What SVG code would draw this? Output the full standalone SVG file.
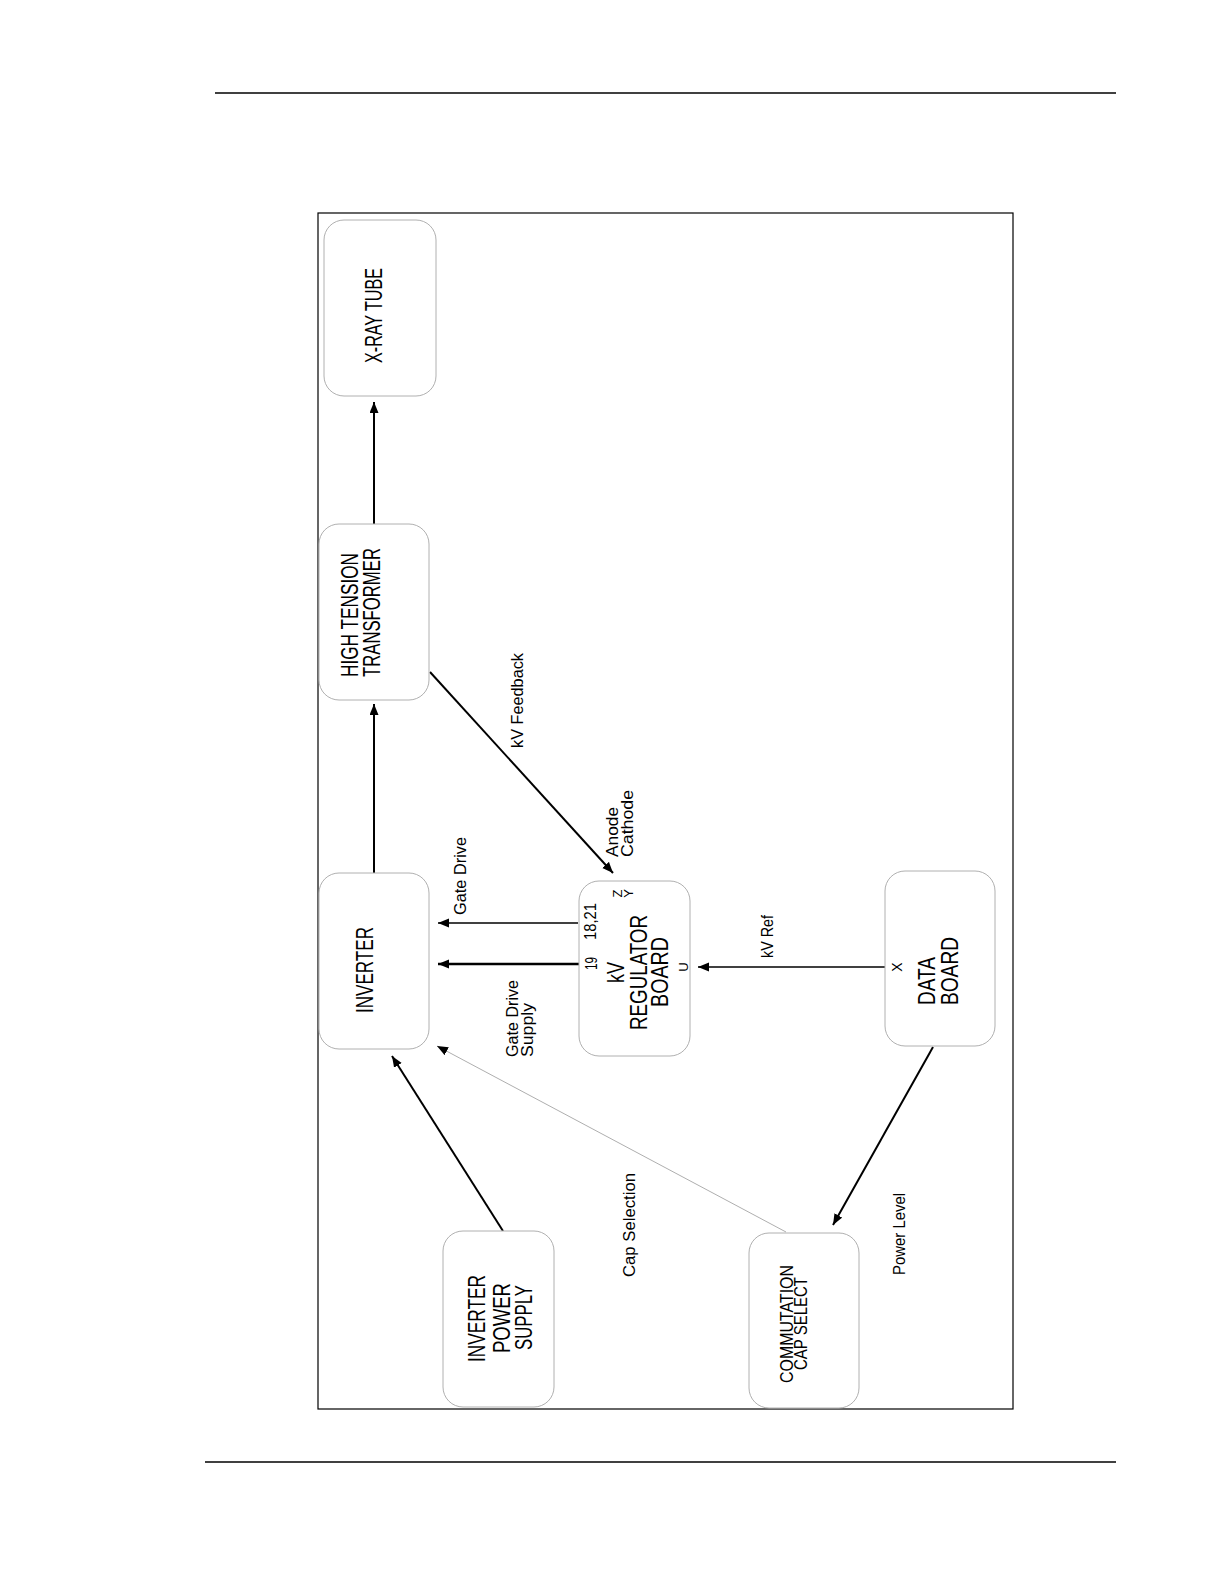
<svg xmlns="http://www.w3.org/2000/svg" width="1224" height="1584" viewBox="0 0 1224 1584">
<style>
.box{fill:#fff;stroke:#b0b0b0;stroke-width:1}
.t{font-family:"Liberation Sans",Arial,sans-serif;fill:#000}
.big{font-size:24px}
.mid{font-size:18px}
.sm{font-size:16px}
.xs{font-size:13px}
.c{stroke:#000;fill:none}
</style>
<defs>
<marker id="ah" markerUnits="userSpaceOnUse" markerWidth="12" markerHeight="10" refX="11" refY="4.5" orient="auto" viewBox="0 0 12 10">
<path d="M0,0 L11,4.5 L0,9 z" fill="#000"/>
</marker>
</defs>
<rect width="1224" height="1584" fill="#fff"/>
<line x1="215" y1="93" x2="1116" y2="93" stroke="#000" stroke-width="1.5"/>
<line x1="205" y1="1462" x2="1116" y2="1462" stroke="#000" stroke-width="1.5"/>
<rect x="318" y="213" width="695" height="1196" fill="none" stroke="#000" stroke-width="1.2"/>

<g id="connectors">
<line class="c" x1="374" y1="524" x2="374" y2="402" stroke-width="2" marker-end="url(#ah)"/>
<line class="c" x1="374" y1="873" x2="374" y2="704" stroke-width="2" marker-end="url(#ah)"/>
<line class="c" x1="430" y1="672" x2="613" y2="873" stroke-width="2" marker-end="url(#ah)"/>
<line class="c" x1="578" y1="923" x2="438" y2="923" stroke-width="1.5" marker-end="url(#ah)"/>
<line class="c" x1="580" y1="964" x2="438" y2="964" stroke-width="2.5" marker-end="url(#ah)"/>
<line class="c" x1="885" y1="967" x2="698" y2="967" stroke-width="1.5" marker-end="url(#ah)"/>
<line class="c" x1="503" y1="1231" x2="392" y2="1056" stroke-width="2" marker-end="url(#ah)"/>
<line x1="786" y1="1232" x2="437" y2="1046" stroke="#999" stroke-width="0.8" fill="none" marker-end="url(#ah)"/>
<line class="c" x1="933" y1="1047" x2="833" y2="1225" stroke-width="2" marker-end="url(#ah)"/>
<text class="t sm" transform="translate(523,700.5) rotate(-90)" text-anchor="middle" textLength="95" lengthAdjust="spacingAndGlyphs">kV Feedback</text>
<text class="t sm" transform="translate(618,857) rotate(-90)" textLength="50" lengthAdjust="spacingAndGlyphs">Anode</text>
<text class="t sm" transform="translate(633,857) rotate(-90)" textLength="67" lengthAdjust="spacingAndGlyphs">Cathode</text>
<text class="t sm" transform="translate(466,915) rotate(-90)" textLength="78" lengthAdjust="spacingAndGlyphs">Gate Drive</text>
<text class="t sm" transform="translate(518,1057) rotate(-90)" textLength="77" lengthAdjust="spacingAndGlyphs">Gate Drive</text>
<text class="t sm" transform="translate(533,1057) rotate(-90)" textLength="54" lengthAdjust="spacingAndGlyphs">Supply</text>
<text class="t sm" transform="translate(773,958) rotate(-90)" textLength="43" lengthAdjust="spacingAndGlyphs">kV Ref</text>
<text class="t sm" transform="translate(635,1277) rotate(-90)" textLength="104" lengthAdjust="spacingAndGlyphs">Cap Selection</text>
<text class="t sm" transform="translate(905,1275) rotate(-90)" textLength="82" lengthAdjust="spacingAndGlyphs">Power Level</text>
</g>

<g id="xray">
<rect class="box" x="324" y="220" width="112" height="176" rx="20"/>
<text class="t big" transform="translate(382,315.5) rotate(-90)" text-anchor="middle" textLength="95" lengthAdjust="spacingAndGlyphs">X-RAY TUBE</text>
</g>
<g id="ht">
<rect class="box" x="319" y="524" width="110" height="176" rx="20"/>
<text class="t big" transform="translate(358,677) rotate(-90)" textLength="124" lengthAdjust="spacingAndGlyphs">HIGH TENSION</text>
<text class="t big" transform="translate(380,677) rotate(-90)" textLength="129" lengthAdjust="spacingAndGlyphs">TRANSFORMER</text>
</g>
<g id="inverter">
<rect class="box" x="319" y="873" width="110" height="176" rx="20"/>
<text class="t big" transform="translate(373,970) rotate(-90)" text-anchor="middle" textLength="86" lengthAdjust="spacingAndGlyphs">INVERTER</text>
</g>
<g id="kvreg">
<rect class="box" x="579" y="881" width="111" height="175" rx="20"/>
<text class="t sm" transform="translate(597,970) rotate(-90)" textLength="13" lengthAdjust="spacingAndGlyphs">19</text>
<text class="t sm" transform="translate(596,940) rotate(-90)" textLength="37" lengthAdjust="spacingAndGlyphs">18,21</text>
<text class="t xs" transform="translate(622,893.5) rotate(-90)" text-anchor="middle">Z</text>
<text class="t xs" transform="translate(633,893.5) rotate(-90)" text-anchor="middle">Y</text>
<text class="t big" transform="translate(624,972.5) rotate(-90)" text-anchor="middle" textLength="21" lengthAdjust="spacingAndGlyphs">kV</text>
<text class="t big" transform="translate(647,972.5) rotate(-90)" text-anchor="middle" textLength="115" lengthAdjust="spacingAndGlyphs">REGULATOR</text>
<text class="t big" transform="translate(668,972) rotate(-90)" text-anchor="middle" textLength="70" lengthAdjust="spacingAndGlyphs">BOARD</text>
<text class="t xs" transform="translate(688,967) rotate(-90)" text-anchor="middle">U</text>
</g>
<g id="data">
<rect class="box" x="885" y="871" width="110" height="175" rx="20"/>
<text class="t xs" transform="translate(902,967) rotate(-90)" text-anchor="middle" style="font-size:14px">X</text>
<text class="t big" transform="translate(935,1005) rotate(-90)" textLength="48" lengthAdjust="spacingAndGlyphs">DATA</text>
<text class="t big" transform="translate(958,1005) rotate(-90)" textLength="68" lengthAdjust="spacingAndGlyphs">BOARD</text>
</g>
<g id="ips">
<rect class="box" x="443" y="1231" width="111" height="176" rx="20"/>
<text class="t big" transform="translate(485,1318.5) rotate(-90)" text-anchor="middle" textLength="87" lengthAdjust="spacingAndGlyphs">INVERTER</text>
<text class="t big" transform="translate(510,1318) rotate(-90)" text-anchor="middle" textLength="70" lengthAdjust="spacingAndGlyphs">POWER</text>
<text class="t big" transform="translate(532,1317.5) rotate(-90)" text-anchor="middle" textLength="65" lengthAdjust="spacingAndGlyphs">SUPPLY</text>
</g>
<g id="comm">
<rect class="box" x="749" y="1233" width="110" height="175" rx="20"/>
<text class="t mid" transform="translate(793,1324) rotate(-90)" text-anchor="middle" textLength="118" lengthAdjust="spacingAndGlyphs">COMMUTATION</text>
<text class="t mid" transform="translate(807,1323.5) rotate(-90)" text-anchor="middle" textLength="93" lengthAdjust="spacingAndGlyphs">CAP SELECT</text>
</g>
</svg>
